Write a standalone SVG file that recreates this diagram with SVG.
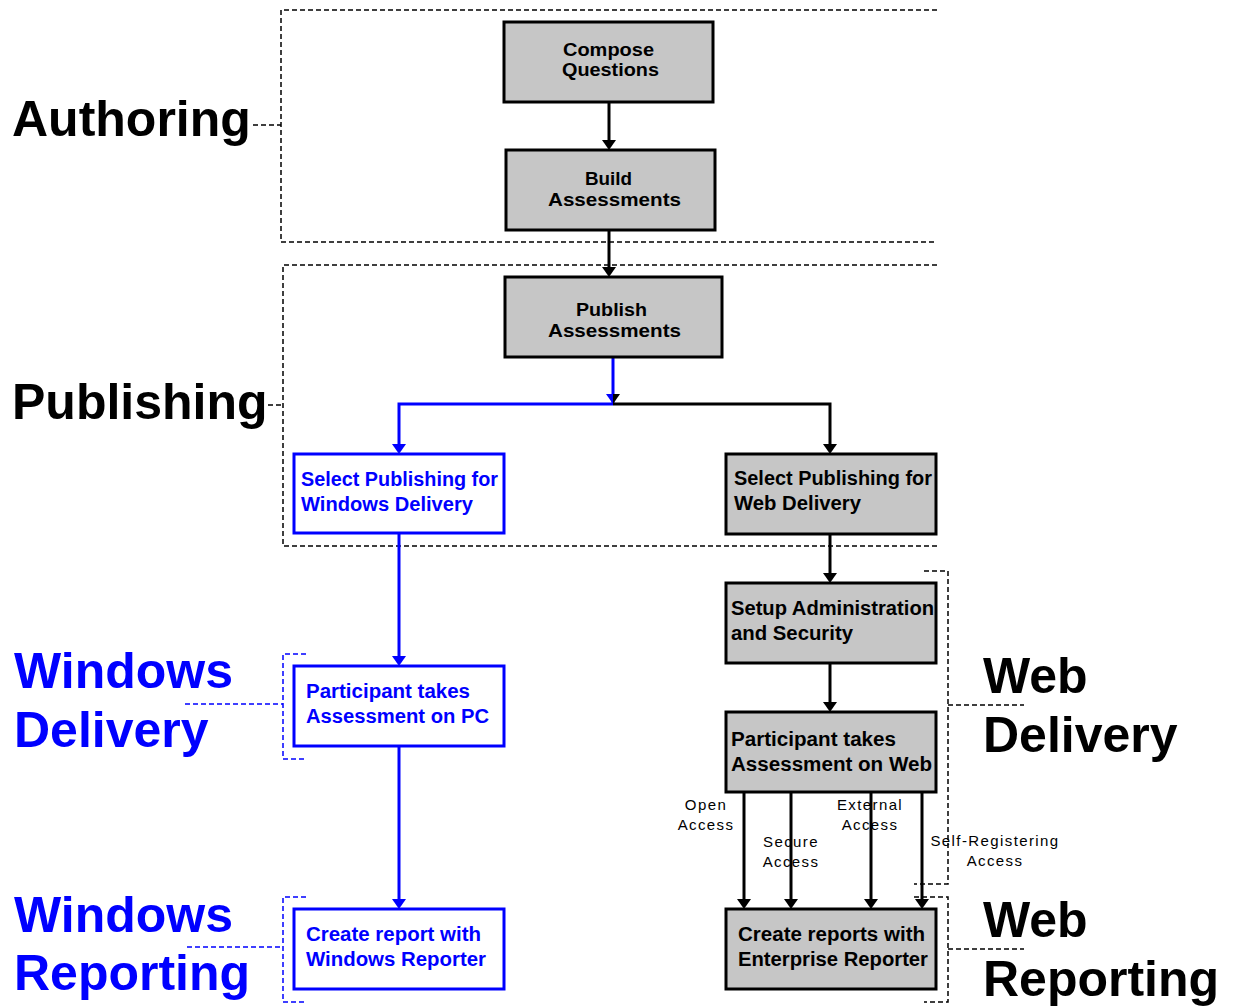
<svg xmlns="http://www.w3.org/2000/svg" width="1234" height="1008" viewBox="0 0 1234 1008">
  <style>
    .big { font-family: "Liberation Sans", Arial, sans-serif; font-weight: bold; font-size: 50px; }
    .blk { fill: #000; }
    .blu { fill: #0000ff; }
    .box { stroke-width: 3; }
    .gray { fill: #c6c6c6; stroke: #000; }
    .white { fill: #fff; stroke: #0000ff; }
    .nt { font-family: "Liberation Sans", Arial, sans-serif; font-weight: bold; font-size: 20px; }
    .nts { font-family: "Liberation Sans", Arial, sans-serif; font-weight: bold; font-size: 18px; }
    .lbl { font-family: "Liberation Sans", Arial, sans-serif; font-size: 15px; fill: #000; letter-spacing: 1.4px; }
    .dash { fill: none; stroke-width: 1.5; stroke-dasharray: 5 3; }
    .dk { stroke: #000; }
    .db { stroke: #0000ff; }
    .ln { fill: none; stroke-width: 3; }
    .lk { stroke: #000; }
    .lb { stroke: #0000ff; }
  </style>

  <!-- stage brackets and their labels -->
  <g id="stages">
    <path class="dash dk" d="M937,10 H281 V242 H937"/>
    <path class="dash dk" d="M253,125 H281"/>
    <text class="big blk" x="12" y="136">Authoring</text>

    <path class="dash dk" d="M937,265 H283 V546 H937"/>
    <path class="dash dk" d="M268,405 H283"/>
    <text class="big blk" x="12" y="419">Publishing</text>

    <path class="dash db" d="M306,654 H283 V759 H306"/>
    <path class="dash db" d="M185,704 H283"/>
    <text class="big blu" x="14" y="688">Windows</text>
    <text class="big blu" x="14" y="747">Delivery</text>

    <path class="dash db" d="M306,897 H283 V1002 H306"/>
    <path class="dash db" d="M187,947 H283"/>
    <text class="big blu" x="14" y="932">Windows</text>
    <text class="big blu" x="14" y="990">Reporting</text>

    <path class="dash dk" d="M924,571 H948 V884 H914"/>
    <path class="dash dk" d="M948,705 H1024"/>
    <text class="big blk" x="983" y="693">Web</text>
    <text class="big blk" x="983" y="752">Delivery</text>

    <path class="dash dk" d="M914,897 H948 V1002 H924"/>
    <path class="dash dk" d="M948,949 H1024"/>
    <text class="big blk" x="983" y="937">Web</text>
    <text class="big blk" x="983" y="996">Reporting</text>
  </g>

  <!-- connectors -->
  <g id="connectors">
    <path class="ln lk" d="M609,102 V141"/>
    <polygon class="blk" points="602,140 616,140 609,150"/>
    <path class="ln lk" d="M609,230 V268"/>
    <polygon class="blk" points="602,267 616,267 609,277"/>

    <path class="ln lb" d="M613,357 V404"/>
    <polygon class="blu" points="606,394 613,394 613,404"/>
    <polygon class="blk" points="613,394 620,394 613,404"/>
    <path class="ln lb" d="M613,404 H399 V445"/>
    <polygon class="blu" points="392,444 406,444 399,454"/>
    <path class="ln lk" d="M613,404 H830 V445"/>
    <polygon class="blk" points="823,444 837,444 830,454"/>

    <path class="ln lb" d="M399,533 V657"/>
    <polygon class="blu" points="392,656 406,656 399,666"/>
    <path class="ln lb" d="M399,746 V900"/>
    <polygon class="blu" points="392,899 406,899 399,909"/>

    <path class="ln lk" d="M830,534 V574"/>
    <polygon class="blk" points="823,573 837,573 830,583"/>
    <path class="ln lk" d="M830,663 V703"/>
    <polygon class="blk" points="823,702 837,702 830,712"/>

    <path class="ln lk" d="M744,792 V900"/>
    <polygon class="blk" points="737,899 751,899 744,909"/>
    <path class="ln lk" d="M791,792 V900"/>
    <polygon class="blk" points="784,899 798,899 791,909"/>
    <path class="ln lk" d="M871,792 V900"/>
    <polygon class="blk" points="864,899 878,899 871,909"/>
    <path class="ln lk" d="M922,792 V900"/>
    <polygon class="blk" points="915,899 929,899 922,909"/>

    <text class="lbl" text-anchor="middle" x="706" y="810">Open</text>
    <text class="lbl" text-anchor="middle" x="706" y="830">Access</text>
    <text class="lbl" text-anchor="middle" x="791" y="847">Secure</text>
    <text class="lbl" text-anchor="middle" x="791" y="867">Access</text>
    <text class="lbl" text-anchor="middle" x="870" y="810">External</text>
    <text class="lbl" text-anchor="middle" x="870" y="830">Access</text>
    <text class="lbl" text-anchor="middle" x="995" y="846">Self-Registering</text>
    <text class="lbl" text-anchor="middle" x="995" y="866">Access</text>
  </g>

  <!-- process steps -->
  <g id="compose-questions">
    <rect class="box gray" x="504" y="22" width="209" height="80"/>
    <text class="nts blk" x="563" y="56" textLength="91" lengthAdjust="spacingAndGlyphs">Compose</text>
    <text class="nts blk" x="562" y="76" textLength="97" lengthAdjust="spacingAndGlyphs">Questions</text>
  </g>
  <g id="build-assessments">
    <rect class="box gray" x="506" y="150" width="209" height="80"/>
    <text class="nts blk" x="585" y="185" textLength="47" lengthAdjust="spacingAndGlyphs">Build</text>
    <text class="nts blk" x="548" y="206" textLength="133" lengthAdjust="spacingAndGlyphs">Assessments</text>
  </g>
  <g id="publish-assessments">
    <rect class="box gray" x="505" y="277" width="217" height="80"/>
    <text class="nts blk" x="576" y="316" textLength="71" lengthAdjust="spacingAndGlyphs">Publish</text>
    <text class="nts blk" x="548" y="337" textLength="133" lengthAdjust="spacingAndGlyphs">Assessments</text>
  </g>
  <g id="select-windows">
    <rect class="box white" x="294" y="454" width="210" height="79"/>
    <text class="nt blu" x="301" y="486" textLength="197" lengthAdjust="spacingAndGlyphs">Select Publishing for</text>
    <text class="nt blu" x="301" y="511" textLength="172" lengthAdjust="spacingAndGlyphs">Windows Delivery</text>
  </g>
  <g id="select-web">
    <rect class="box gray" x="726" y="454" width="210" height="80"/>
    <text class="nt blk" x="734" y="485" textLength="198" lengthAdjust="spacingAndGlyphs">Select Publishing for</text>
    <text class="nt blk" x="734" y="510" textLength="127" lengthAdjust="spacingAndGlyphs">Web Delivery</text>
  </g>
  <g id="setup-admin">
    <rect class="box gray" x="726" y="583" width="210" height="80"/>
    <text class="nt blk" x="731" y="615" textLength="203" lengthAdjust="spacingAndGlyphs">Setup Administration</text>
    <text class="nt blk" x="731" y="640" textLength="122" lengthAdjust="spacingAndGlyphs">and Security</text>
  </g>
  <g id="participant-web">
    <rect class="box gray" x="726" y="712" width="210" height="80"/>
    <text class="nt blk" x="731" y="746" textLength="165" lengthAdjust="spacingAndGlyphs">Participant takes</text>
    <text class="nt blk" x="731" y="771" textLength="201" lengthAdjust="spacingAndGlyphs">Assessment on Web</text>
  </g>
  <g id="reports-enterprise">
    <rect class="box gray" x="726" y="909" width="210" height="80"/>
    <text class="nt blk" x="738" y="941" textLength="187" lengthAdjust="spacingAndGlyphs">Create reports with</text>
    <text class="nt blk" x="738" y="966" textLength="190" lengthAdjust="spacingAndGlyphs">Enterprise Reporter</text>
  </g>
  <g id="participant-pc">
    <rect class="box white" x="294" y="666" width="210" height="80"/>
    <text class="nt blu" x="306" y="698" textLength="164" lengthAdjust="spacingAndGlyphs">Participant takes</text>
    <text class="nt blu" x="306" y="723" textLength="183" lengthAdjust="spacingAndGlyphs">Assessment on PC</text>
  </g>
  <g id="reports-windows">
    <rect class="box white" x="294" y="909" width="210" height="80"/>
    <text class="nt blu" x="306" y="941" textLength="175" lengthAdjust="spacingAndGlyphs">Create report with</text>
    <text class="nt blu" x="306" y="966" textLength="180" lengthAdjust="spacingAndGlyphs">Windows Reporter</text>
  </g>
</svg>
